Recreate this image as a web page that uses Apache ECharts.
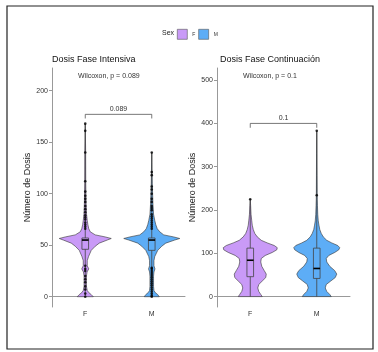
<!DOCTYPE html>
<html>
<head>
<meta charset="utf-8">
<script src="https://cdn.jsdelivr.net/npm/echarts@6/dist/echarts.min.js"></script>
<style>
    html, body { margin: 0; padding: 0; background: #fff; }
    #chart { width: 378px; height: 352px; }
</style>
</head>
<body>
<div id="chart"></div>
<script>
var sexos = ['F', 'M'];
var colores = { F: '#C99AF7', M: '#5DADF6' };

// ticks de cada eje y
var ticksInt = [0, 50, 100, 150, 200];
var ticksCont = [0, 100, 200, 300, 400, 500];

// perfil de densidad (medio ancho relativo) - Fase Intensiva
var intY = [0, 2, 4, 6, 10, 20, 24, 27, 30, 35, 39, 45, 49, 52, 55, 56.5, 58, 60, 63, 66, 70, 74, 80, 90, 110, 140, 168];
var intF = [8, 6, 3.5, 2, 1.2, 1.2, 1.8, 3.5, 2, 2, 3.3, 6, 10, 14, 22, 26, 20, 10, 5, 3.5, 2.6, 2, 1.3, 0.9, 0.5, 0.4, 0];
var intM = [7.5, 6, 3.5, 2.2, 1.8, 1.8, 2.2, 3.2, 2.2, 2.2, 3, 6, 10, 14, 23, 28, 22, 12, 8, 5.5, 4, 3, 1.8, 1.2, 0.5, 0, 0];

// perfil de densidad - Fase Continuacion
var contY = [0, 5, 12, 20, 28, 36, 44, 52, 60, 70, 80, 88, 95, 102, 108, 113, 118, 124, 130, 138, 146, 155, 165, 175, 190, 210, 225, 240, 280, 330, 383];
var contF = [12, 10.5, 8.5, 7.5, 8.5, 12, 15.5, 16, 14, 11.5, 10.5, 11, 15, 22, 26.5, 27, 24, 17, 11, 7, 4.5, 3, 2, 1.5, 0.8, 0.4, 0, 0, 0, 0, 0];
var contM = [14.5, 13, 10, 8.5, 9.5, 14, 18.5, 20, 18, 13, 10, 9.5, 12, 18, 22, 23, 21, 15, 10, 6.5, 4.5, 3, 2.2, 1.5, 1, 0.7, 0.5, 0.4, 0.3, 0.2, 0];

// cajas: [extremo inf, Q1, mediana, Q3, extremo sup]
var cajaIntF = [0, 46, 55, 57, 168];
var cajaIntM = [0, 45, 55, 57, 140];
var cajaContF = [0, 46, 84, 112, 225];
var cajaContM = [0, 42, 65, 112, 383];

// valores atipicos
var atipIntF = [0, 3, 7, 10, 14, 17, 20, 25, 27, 30, 66, 68, 70, 72, 75, 77, 79, 82, 85, 88, 92, 95, 98, 102, 112, 140, 161, 168];
var atipIntM = [0, 1, 3, 5, 7, 9, 11, 13, 15, 17, 19, 21, 23, 25, 27, 28, 66, 68, 70, 72, 74, 76, 78, 80, 84, 86, 88, 92, 95, 100, 104, 107, 118, 121, 140];
var atipContF = [225];
var atipContM = [234, 383];

// comparaciones
var pInt = '0.089';
var pCont = '0.1';
var corcheteInt = [177, 173];
var corcheteCont = [400, 390];

var chart = echarts.init(document.getElementById('chart'));

function violin(nombre, xi, cat, ys, ws) {
    return {
        type: 'custom',
        name: nombre,
        xAxisIndex: xi,
        yAxisIndex: xi,
        itemStyle: { color: colores[nombre] },
        data: [[cat, 0]],
        z: 2,
        renderItem: function (params, api) {
            var band = api.size([1, 0])[0];
            var k = band / 66.5;
            var c = api.value(0);
            var ultimo = 0;
            for (var i = 0; i < ws.length; i++) {
                if (ws[i] > 0) ultimo = i;
            }
            var fin = Math.min(ultimo + 1, ws.length - 1);
            var der = [], izq = [];
            for (var j = 0; j <= fin; j++) {
                var p = api.coord([c, ys[j]]);
                der.push([p[0] + ws[j] * k, p[1]]);
                izq.unshift([p[0] - ws[j] * k, p[1]]);
            }
            return {
                type: 'polygon',
                shape: { points: der.concat(izq) },
                style: { fill: colores[nombre], stroke: '#333', lineWidth: 0.6 }
            };
        }
    };
}

function caja(xi, cat, v) {
    return {
        type: 'custom',
        xAxisIndex: xi,
        yAxisIndex: xi,
        data: [[cat].concat(v)],
        z: 3,
        silent: true,
        renderItem: function (params, api) {
            var band = api.size([1, 0])[0];
            var c = api.value(0);
            var pMin = api.coord([c, api.value(1)]);
            var pQ1 = api.coord([c, api.value(2)]);
            var pMed = api.coord([c, api.value(3)]);
            var pQ3 = api.coord([c, api.value(4)]);
            var pMax = api.coord([c, api.value(5)]);
            var w = band * 0.05;
            var linea = { stroke: '#444', lineWidth: 0.8 };
            return {
                type: 'group',
                children: [
                    { type: 'line', shape: { x1: pMin[0], y1: pMin[1], x2: pQ1[0], y2: pQ1[1] }, style: linea },
                    { type: 'line', shape: { x1: pQ3[0], y1: pQ3[1], x2: pMax[0], y2: pMax[1] }, style: linea },
                    { type: 'rect', shape: { x: pQ3[0] - w, y: pQ3[1], width: 2 * w, height: pQ1[1] - pQ3[1] },
                      style: { fill: 'none', stroke: '#444', lineWidth: 0.8 } },
                    { type: 'line', shape: { x1: pMed[0] - w, y1: pMed[1], x2: pMed[0] + w, y2: pMed[1] },
                      style: { stroke: '#000', lineWidth: 1.6 } }
                ]
            };
        }
    };
}

function puntos(xi, cat, vals) {
    return {
        type: 'scatter',
        xAxisIndex: xi,
        yAxisIndex: xi,
        symbolSize: 2.6,
        itemStyle: { color: '#000' },
        z: 4,
        silent: true,
        data: vals.map(function (v) { return [cat, v]; })
    };
}

function corchete(xi, alto, texto) {
    return {
        type: 'custom',
        xAxisIndex: xi,
        yAxisIndex: xi,
        data: [[0, 1, alto[0], alto[1]]],
        z: 5,
        silent: true,
        renderItem: function (params, api) {
            var a = api.coord([api.value(0), api.value(3)]);
            var b = api.coord([api.value(0), api.value(2)]);
            var c = api.coord([api.value(1), api.value(2)]);
            var d = api.coord([api.value(1), api.value(3)]);
            return {
                type: 'group',
                children: [
                    { type: 'polyline', shape: { points: [a, b, c, d] },
                      style: { fill: 'none', stroke: '#555', lineWidth: 0.8 } },
                    { type: 'text', x: (b[0] + c[0]) / 2, y: b[1] - 2,
                      style: { text: texto, fontSize: 7, fill: '#333', align: 'center', verticalAlign: 'bottom',
                               fontFamily: 'Liberation Sans, Arial, sans-serif' } }
                ]
            };
        }
    };
}

function ejeY(gi, min, max, ticks) {
    return {
        gridIndex: gi,
        type: 'value',
        min: min,
        max: max,
        splitLine: { show: false },
        axisLine: { show: true, lineStyle: { color: '#999', width: 1 } },
        axisTick: { show: true, length: 3, customValues: ticks, lineStyle: { color: '#999' } },
        axisLabel: { customValues: ticks, fontSize: 7, color: '#333', margin: 4 },
        name: 'Número de Dosis',
        nameLocation: 'middle',
        nameGap: 19,
        nameTextStyle: { fontSize: 9, color: '#222' }
    };
}

function ejeX(gi) {
    return {
        gridIndex: gi,
        type: 'category',
        data: sexos,
        axisLine: { lineStyle: { color: '#999', width: 1 } },
        axisTick: { alignWithLabel: true, length: 3, lineStyle: { color: '#999' } },
        axisLabel: { fontSize: 7, color: '#333', margin: 4 }
    };
}

var option = {
    animation: false,
    textStyle: { fontFamily: 'Liberation Sans, Arial, sans-serif' },
    title: [
        { text: 'Dosis Fase Intensiva', left: 52, top: 55, padding: 0,
          textStyle: { fontSize: 9, fontWeight: 'normal', color: '#111' } },
        { text: 'Dosis Fase Continuación', left: 220, top: 55, padding: 0,
          textStyle: { fontSize: 9, fontWeight: 'normal', color: '#111' } }
    ],
    legend: {
        data: sexos,
        left: 177,
        top: 29,
        padding: 0,
        icon: 'rect',
        itemWidth: 10,
        itemHeight: 10,
        itemGap: 3,
        itemStyle: { borderColor: '#555', borderWidth: 0.6 },
        textStyle: { fontSize: 5, color: '#333' }
    },
    grid: [
        { left: 52, top: 68, width: 133, height: 239 },
        { left: 217, top: 68, width: 133, height: 239 }
    ],
    xAxis: [ejeX(0), ejeX(1)],
    yAxis: [ejeY(0, -10, 222, ticksInt), ejeY(1, -24, 528, ticksCont)],
    graphic: [
        { type: 'rect', shape: { x: 7, y: 6, width: 366, height: 343 },
          style: { fill: 'none', stroke: '#222', lineWidth: 1.2 } },
        { type: 'text', left: 162, top: 30,
          style: { text: 'Sex', fontSize: 7, fill: '#222' } },
        { type: 'text', left: 78, top: 73,
          style: { text: 'Wilcoxon, p = ' + pInt, fontSize: 7, fill: '#333' } },
        { type: 'text', left: 243, top: 73,
          style: { text: 'Wilcoxon, p = ' + pCont, fontSize: 7, fill: '#333' } }
    ],
    series: [
        violin('F', 0, 0, intY, intF),
        violin('M', 0, 1, intY, intM),
        violin('F', 1, 0, contY, contF),
        violin('M', 1, 1, contY, contM),
        caja(0, 0, cajaIntF),
        caja(0, 1, cajaIntM),
        caja(1, 0, cajaContF),
        caja(1, 1, cajaContM),
        puntos(0, 0, atipIntF),
        puntos(0, 1, atipIntM),
        puntos(1, 0, atipContF),
        puntos(1, 1, atipContM),
        corchete(0, corcheteInt, pInt),
        corchete(1, corcheteCont, pCont)
    ]
};
chart.setOption(option);
</script>
</body>
</html>
